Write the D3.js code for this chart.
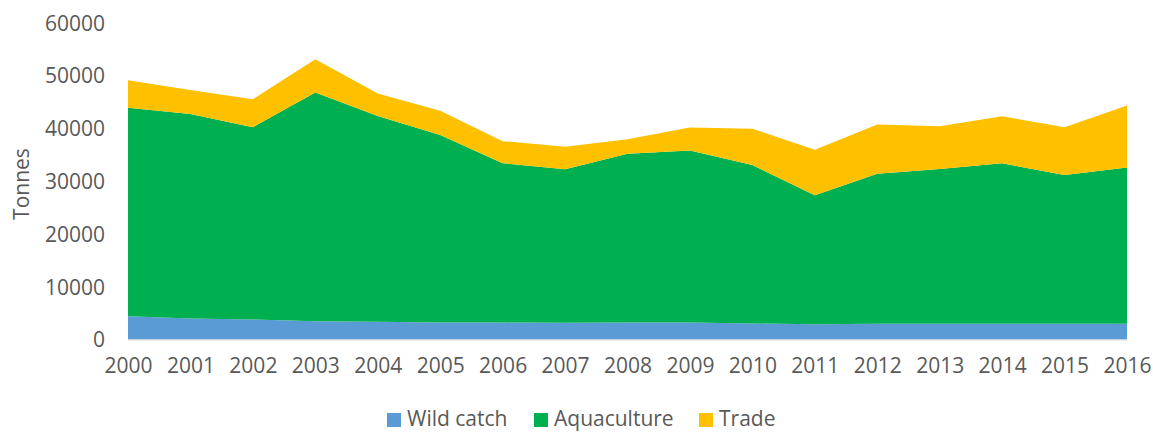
<!DOCTYPE html>
<html>
<head>
<meta charset="utf-8">
<script src="https://cdn.jsdelivr.net/npm/d3@7"></script>
<style>
  html, body { margin: 0; padding: 0; background: #ffffff; }
  svg { display: block; }
</style>
</head>
<body>
<svg id="chart" width="1153" height="432"></svg>
<script>
const years = [2000, 2001, 2002, 2003, 2004, 2005, 2006, 2007, 2008, 2009, 2010, 2011, 2012, 2013, 2014, 2015, 2016];
const wildCatch = [4400, 4000, 3800, 3470, 3350, 3220, 3200, 3160, 3200, 3200, 3030, 2900, 2970, 2970, 2970, 2970, 2970];
const aquaculture = [39500, 38700, 36400, 43300, 39000, 35500, 30200, 29100, 32000, 32600, 30000, 24400, 28400, 29300, 30400, 28200, 29600];
const trade = [5200, 4550, 5310, 6320, 4240, 4600, 4170, 4230, 2710, 4360, 6890, 8650, 9350, 8140, 8900, 9030, 11740];
const seriesNames = ["Wild catch", "Aquaculture", "Trade"];
const seriesColors = ["#5B9BD5", "#00B050", "#FFC000"];
const yTicks = [0, 10000, 20000, 30000, 40000, 50000, 60000];

const svg = d3.select("#chart");
const font = "'Open Sans', sans-serif";
const textColor = "#595959";

const x = d3.scaleLinear().domain([2000, 2016]).range([128, 1127]);
const y = d3.scaleLinear().domain([0, 60000]).range([339.5, 22.7]);

const rows = years.map((yr, i) => ({
  year: yr,
  "Wild catch": wildCatch[i],
  "Aquaculture": aquaculture[i],
  "Trade": trade[i]
}));

const stacked = d3.stack().keys(seriesNames)(rows);

const area = d3.area()
  .x(d => x(d.data.year))
  .y0(d => y(d[0]))
  .y1(d => y(d[1]));

svg.append("g").selectAll("path")
  .data(stacked)
  .join("path")
  .attr("d", area)
  .attr("fill", (d, i) => seriesColors[i]);

// baseline
svg.append("line")
  .attr("x1", x(2000)).attr("x2", x(2016))
  .attr("y1", y(0) + 0.5).attr("y2", y(0) + 0.5)
  .attr("stroke", "#D9D9D9").attr("stroke-width", 1.2);

// Y axis
const yAxis = d3.axisLeft(y).tickValues(yTicks).tickFormat(d3.format("d")).tickSize(0).tickPadding(0);
const yg = svg.append("g").attr("transform", "translate(105,0)").call(yAxis);
yg.select(".domain").remove();
yg.selectAll("text")
  .attr("font-family", font).attr("font-size", 21).attr("fill", textColor)
  .attr("dy", "0.35em");

// X axis
const xAxis = d3.axisBottom(x).tickValues(years).tickFormat(d3.format("d")).tickSize(0).tickPadding(0);
const xg = svg.append("g").attr("transform", "translate(0,358)").call(xAxis);
xg.select(".domain").remove();
xg.selectAll("text")
  .attr("font-family", font).attr("font-size", 21).attr("fill", textColor)
  .attr("dy", "0.71em");

// Y title
svg.append("text")
  .attr("transform", "translate(29,184) rotate(-90)")
  .attr("text-anchor", "middle")
  .attr("font-family", font).attr("font-size", 21).attr("fill", textColor)
  .text("Tonnes");

// Legend
const legendItems = [
  { name: seriesNames[0], color: seriesColors[0], x: 387 },
  { name: seriesNames[1], color: seriesColors[1], x: 534 },
  { name: seriesNames[2], color: seriesColors[2], x: 699 }
];
const lg = svg.append("g");
legendItems.forEach(item => {
  lg.append("rect")
    .attr("x", item.x).attr("y", 413)
    .attr("width", 14).attr("height", 14)
    .attr("fill", item.color);
  lg.append("text")
    .attr("x", item.x + 20).attr("y", 426)
    .attr("font-family", font).attr("font-size", 21).attr("fill", textColor)
    .text(item.name);
});
</script>
</body>
</html>
